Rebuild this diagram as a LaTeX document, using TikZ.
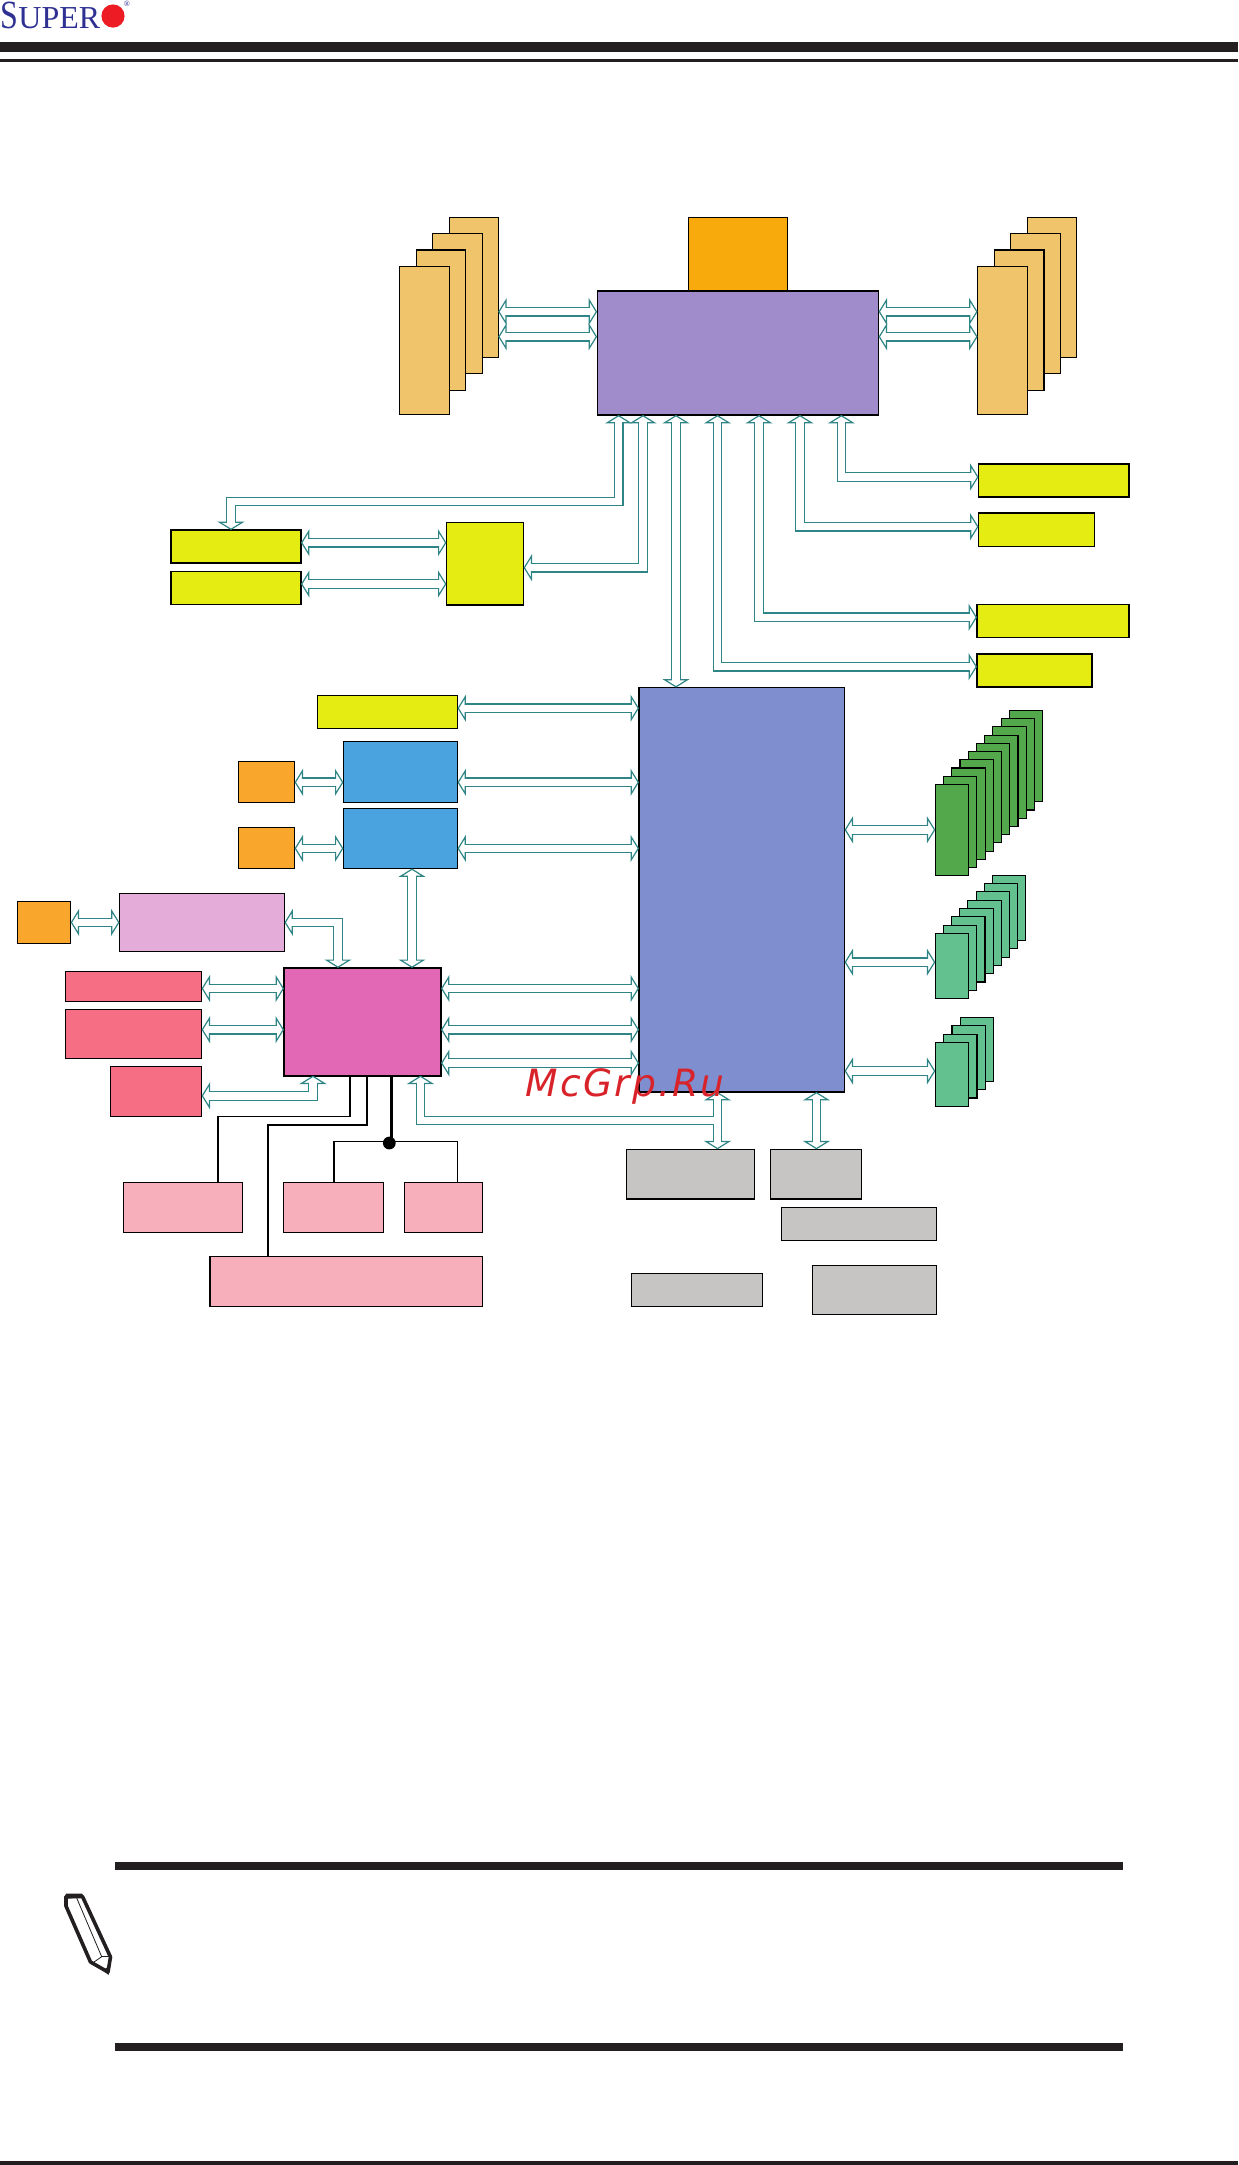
\documentclass[tikz,border=0pt]{standalone}
\usepackage{fontspec}
\setmainfont{Liberation Serif}
\newfontfamily\wmfont[LetterSpace=6]{DejaVu Sans}
\usetikzlibrary{arrows.meta,positioning,calc}

\definecolor{cpuviolet}{HTML}{A08CCB}
\definecolor{cpuorange}{HTML}{F8AA0D}
\definecolor{memtan}{HTML}{EFC46B}
\definecolor{slotyellow}{HTML}{E5EC12}
\definecolor{hubblue}{HTML}{7F8ECE}
\definecolor{lanblue}{HTML}{4AA2DF}
\definecolor{portorange}{HTML}{F9A72C}
\definecolor{vgalilac}{HTML}{E3ACD9}
\definecolor{pchmagenta}{HTML}{E268B6}
\definecolor{ifred}{HTML}{F66E84}
\definecolor{buspink}{HTML}{F7AFBB}
\definecolor{ioggrey}{HTML}{C6C5C3}
\definecolor{sataDark}{HTML}{52A84B}
\definecolor{sataLight}{HTML}{63C18F}
\definecolor{busteal}{HTML}{2F8585}
\definecolor{barblack}{HTML}{231F20}
\definecolor{logoblue}{HTML}{2E3192}
\definecolor{logored}{HTML}{ED1C24}
\definecolor{wmred}{HTML}{D8232A}

\tikzset{
  blk/.style={draw=black, line width=0.55pt, inner sep=0pt, outer sep=0pt},
  headtip/.tip={Triangle[open,length=4.2pt,width=13.5pt,line width=0.6pt,fill=white]},
  bus/.style={draw=busteal, line width=4.9pt, headtip-headtip,
    postaction={draw=white, arrows=-, line width=3.7pt, shorten >=2pt, shorten <=2pt}},
  busone/.style={draw=busteal, line width=4.9pt, headtip-,
    postaction={draw=white, arrows=-, line width=3.7pt, shorten <=2pt}},
  wire/.style={draw=black, line width=0.7pt},
  wirefat/.style={draw=black, line width=1.1pt},
}

\begin{document}
\begin{tikzpicture}[x=0.5pt,y=-0.5pt]
    \useasboundingbox (0,0) rectangle (1238,2165);

    % page furniture
    \fill[barblack] (0,42) rectangle (1238,52);
    \fill[barblack] (0,59.3) rectangle (1238,62);
    \fill[barblack] (115,1862) rectangle (1123,1870);
    \fill[barblack] (115,2043) rectangle (1123,2051);
    \fill[barblack] (0,2161) rectangle (1238,2165);
    \node[logoblue, anchor=base west, inner sep=0pt, xscale=0.8, transform shape, font=\fontsize{20}{20}\selectfont] (logoS) at (0,28.5) {S};
    \node[logoblue, anchor=base west, inner sep=0pt, font=\fontsize{16}{16}\selectfont] (logoU) at (18,28.5) {UPER};
    \fill[logored] (113,16) circle[radius=5.8pt];
    \node[logoblue, inner sep=0pt, font=\fontsize{4}{4}\selectfont] (logoR) at (127,4) {®};

    % note pencil
    \draw[barblack, line width=1.8pt, line join=round, fill=white]
      (66,1896.5) -- (82.5,1896.5) -- (110.5,1957) -- (108,1972) -- (90.5,1962) -- (66,1906) -- cycle;
    \draw[barblack, line width=0.4pt] (76.7,1898) -- (101.7,1956.7) -- (93,1962.7);
    \draw[barblack, line width=0.4pt] (101.7,1956.7) -- (111,1956.7);
    \fill[barblack] (64.5,1899) -- (66,1893.5) -- (82,1893.5) -- (84,1897) -- cycle;
    \fill[barblack] (103,1970) -- (110,1966) -- (108.5,1975) -- cycle;

    % memory stacks
    \node[blk, fill=cpuorange, minimum width=49.65pt, minimum height=36.85pt] (cpufan) at (737.85,254.15) {};
    \node[blk, fill=memtan, minimum width=24.45pt, minimum height=70pt] (memLa) at (473.75,287.3) {};
    \node[blk, fill=memtan, minimum width=25pt, minimum height=70pt] (memLb) at (457.5,303.3) {};
    \node[blk, fill=memtan, minimum width=24.65pt, minimum height=70.15pt] (memLc) at (441,320.15) {};
    \node[blk, fill=memtan, minimum width=25.15pt, minimum height=74pt] (memLd) at (424.45,340.3) {};
    \node[blk, fill=memtan, minimum width=24.45pt, minimum height=70pt] (memRa) at (1052.05,287.3) {};
    \node[blk, fill=memtan, minimum width=25pt, minimum height=70pt] (memRb) at (1035.8,303.3) {};
    \node[blk, fill=memtan, minimum width=24.65pt, minimum height=70.15pt] (memRc) at (1019.3,320.15) {};
    \node[blk, fill=memtan, minimum width=25.15pt, minimum height=74pt] (memRd) at (1002.75,340.3) {};

    % main chips
    \node[blk, fill=cpuviolet, minimum width=140.75pt, minimum height=62pt] (cpu) at (737.85,353) {};
    \node[blk, fill=hubblue, minimum width=102.8pt, minimum height=202.25pt] (hub) at (741.8,889.75) {};
    \node[blk, fill=pchmagenta, line width=0.9pt, minimum width=78.5pt, minimum height=53.85pt] (pch) at (362.5,1021.75) {};

    % yellow slots
    \node[blk, fill=slotyellow, minimum width=65pt, minimum height=16.5pt] (slotA) at (236,546.5) {};
    \node[blk, fill=slotyellow, minimum width=65pt, minimum height=16.5pt] (slotB) at (236,588) {};
    \node[blk, fill=slotyellow, minimum width=38.6pt, minimum height=41.35pt] (switch) at (485,563.65) {};
    \node[blk, fill=slotyellow, minimum width=75.25pt, minimum height=16.5pt] (slotC) at (1053.75,480.5) {};
    \node[blk, fill=slotyellow, minimum width=58pt, minimum height=16.75pt] (slotD) at (1036.5,529.75) {};
    \node[blk, fill=slotyellow, minimum width=76pt, minimum height=16.55pt] (slotE) at (1053,621.05) {};
    \node[blk, fill=slotyellow, minimum width=57.5pt, minimum height=16.5pt] (slotF) at (1034.5,670.5) {};
    \node[blk, fill=slotyellow, minimum width=70.1pt, minimum height=16.4pt] (slotG) at (387.4,712) {};

    % lan and video
    \node[blk, fill=lanblue, minimum width=57.05pt, minimum height=30.55pt] (lanA) at (400.45,771.95) {};
    \node[blk, fill=lanblue, minimum width=57.05pt, minimum height=30.05pt] (lanB) at (400.45,838.45) {};
    \node[blk, fill=portorange, minimum width=28.2pt, minimum height=20.65pt] (portA) at (266.4,781.85) {};
    \node[blk, fill=portorange, minimum width=28.2pt, minimum height=20.6pt] (portB) at (266.4,847.9) {};
    \node[blk, fill=portorange, minimum width=26.7pt, minimum height=21.05pt] (portC) at (44,922.45) {};
    \node[blk, fill=vgalilac, minimum width=82.5pt, minimum height=29.05pt] (bmc) at (202,922.45) {};

    % pch neighbours
    \node[blk, fill=ifred, minimum width=68.2pt, minimum height=14.95pt] (ifA) at (133.4,986.15) {};
    \node[blk, fill=ifred, minimum width=68.2pt, minimum height=24.45pt] (ifB) at (133.4,1033.95) {};
    \node[blk, fill=ifred, minimum width=45.65pt, minimum height=24.85pt] (ifC) at (155.95,1091.65) {};
    \node[blk, fill=buspink, minimum width=59.55pt, minimum height=24.85pt] (pinkA) at (182.85,1207.35) {};
    \node[blk, fill=buspink, minimum width=49.85pt, minimum height=24.85pt] (pinkB) at (333.55,1207.35) {};
    \node[blk, fill=buspink, minimum width=38.9pt, minimum height=24.85pt] (pinkC) at (443.4,1207.35) {};
    \node[blk, fill=buspink, minimum width=136.15pt, minimum height=24.85pt] (pinkD) at (346.15,1281.45) {};

    % grey boxes
    \node[blk, fill=ioggrey, minimum width=64.2pt, minimum height=24.85pt] (greyA) at (690.5,1174.15) {};
    \node[blk, fill=ioggrey, minimum width=45.5pt, minimum height=24.85pt] (greyB) at (816.2,1174.15) {};
    \node[blk, fill=ioggrey, minimum width=77.5pt, minimum height=16.6pt] (greyC) at (859.2,1224) {};
    \node[blk, fill=ioggrey, minimum width=65.7pt, minimum height=16.45pt] (greyD) at (697,1289.85) {};
    \node[blk, fill=ioggrey, minimum width=62.2pt, minimum height=24.65pt] (greyE) at (874.5,1290.05) {};

    % sata and usb stacks
    \foreach \i in {9,...,0}
      \node[blk, fill=sataDark, minimum width=16.7pt, minimum height=45.65pt] (gd\i) at ({952+\i*8.22},{830.05-\i*8.22}) {};
    \foreach \i in {7,...,0}
      \node[blk, fill=sataLight, minimum width=16.7pt, minimum height=32.6pt] (gm\i) at ({952+\i*8.15},{966-\i*8.3}) {};
    \foreach \i in {3,...,0}
      \node[blk, fill=sataLight, minimum width=16.7pt, minimum height=31.95pt] (gs\i) at ({952+\i*8.33},{1074.35-\i*8.3}) {};

    % memory buses
    \draw[bus] (memLa.east |- 0,311.7) -- (cpu.west |- 0,311.7);
    \draw[bus] (memLa.east |- 0,336.7) -- (cpu.west |- 0,336.7);
    \draw[bus] (cpu.east |- 0,311.7) -- (memRd.west |- 0,311.7);
    \draw[bus] (cpu.east |- 0,336.7) -- (memRd.west |- 0,336.7);

    % cpu buses
    \draw[bus] (cpu.south -| 618.6,0) |- (231,501.5) -- (slotA.north -| 231,0);
    \draw[bus] (cpu.south -| 643,0) |- (switch.east |- 0,567.7);
    \draw[bus] (cpu.south -| 676,0) -- (hub.north -| 676,0);
    \draw[bus] (cpu.south -| 717.5,0) |- (slotF.west |- 0,666.7);
    \draw[bus] (cpu.south -| 759,0) |- (slotE.west |- 0,617.3);
    \draw[bus] (cpu.south -| 800,0) |- (slotD.west |- 0,526.7);
    \draw[bus] (cpu.south -| 841.4,0) |- (slotC.west |- 0,477);
    \draw[bus] (slotA.east |- 0,542.7) -- (switch.west |- 0,542.7);
    \draw[bus] (slotB.east |- 0,584) -- (switch.west |- 0,584);

    % hub buses
    \draw[bus] (slotG.east |- 0,708.2) -- (hub.west |- 0,708.2);
    \draw[bus] (lanA.east |- 0,782.3) -- (hub.west |- 0,782.3);
    \draw[bus] (lanB.east |- 0,848.4) -- (hub.west |- 0,848.4);
    \draw[bus] (portA.east |- 0,782.3) -- (lanA.west |- 0,782.3);
    \draw[bus] (portB.east |- 0,848.4) -- (lanB.west |- 0,848.4);
    \draw[bus] (lanB.south -| 412,0) -- (pch.north -| 412,0);
    \draw[bus] (portC.east |- 0,922.4) -- (bmc.west |- 0,922.4);
    \draw[bus] (bmc.east |- 0,922.4) -| (pch.north -| 338,0);
    \draw[bus] (ifA.east |- 0,988.5) -- (pch.west |- 0,988.5);
    \draw[bus] (ifB.east |- 0,1029.7) -- (pch.west |- 0,1029.7);
    \draw[bus] (ifC.east |- 0,1095.8) -| (pch.south -| 313,0);
    \draw[bus] (pch.east |- 0,988.5) -- (hub.west |- 0,988.5);
    \draw[bus] (pch.east |- 0,1029.7) -- (hub.west |- 0,1029.7);
    \draw[bus] (pch.east |- 0,1063) -- (hub.west |- 0,1063);
    \draw[bus] (hub.east |- 0,829.8) -- (gd0.west |- 0,829.8);
    \draw[bus] (hub.east |- 0,962.2) -- (gm0.west |- 0,962.2);
    \draw[bus] (hub.east |- 0,1071) -- (gs0.west |- 0,1071);
    \draw[bus] (hub.south -| 816.5,0) -- (greyB.north -| 816.5,0);
    \draw[bus] (hub.south -| 717.5,0) -- (greyA.north -| 717.5,0);
    \coordinate (jct) at (714.3,1120.4);
    \draw[busone] (pch.south -| 420.5,0) |- (jct);

    % black wires
    \draw[wire] (pinkA.north -| 218,0) |- (350,1116.5) -- (pch.south -| 350,0);
    \draw[wirefat] (pinkD.north -| 267.7,0) |- (366.6,1125) -- (pch.south -| 366.6,0);
    \coordinate (wirejoin) at (389.3,1143);
    \draw[wirefat, line width=1.2pt] (pch.south -| 391.4,0) -- (391.4,1141.3);
    \draw[wire] (pinkB.north -| 333.8,0) |- (457.5,1141.3) -- (pinkC.north -| 457.5,0);
    \fill[black] (wirejoin) circle[radius=3.2pt];

    \node[wmred, anchor=base, inner sep=0pt, font=\wmfont\itshape\fontsize{18.8}{20}\selectfont] (mark) at (625,1096.7) {McGrp.Ru};
\end{tikzpicture}
\end{document}
